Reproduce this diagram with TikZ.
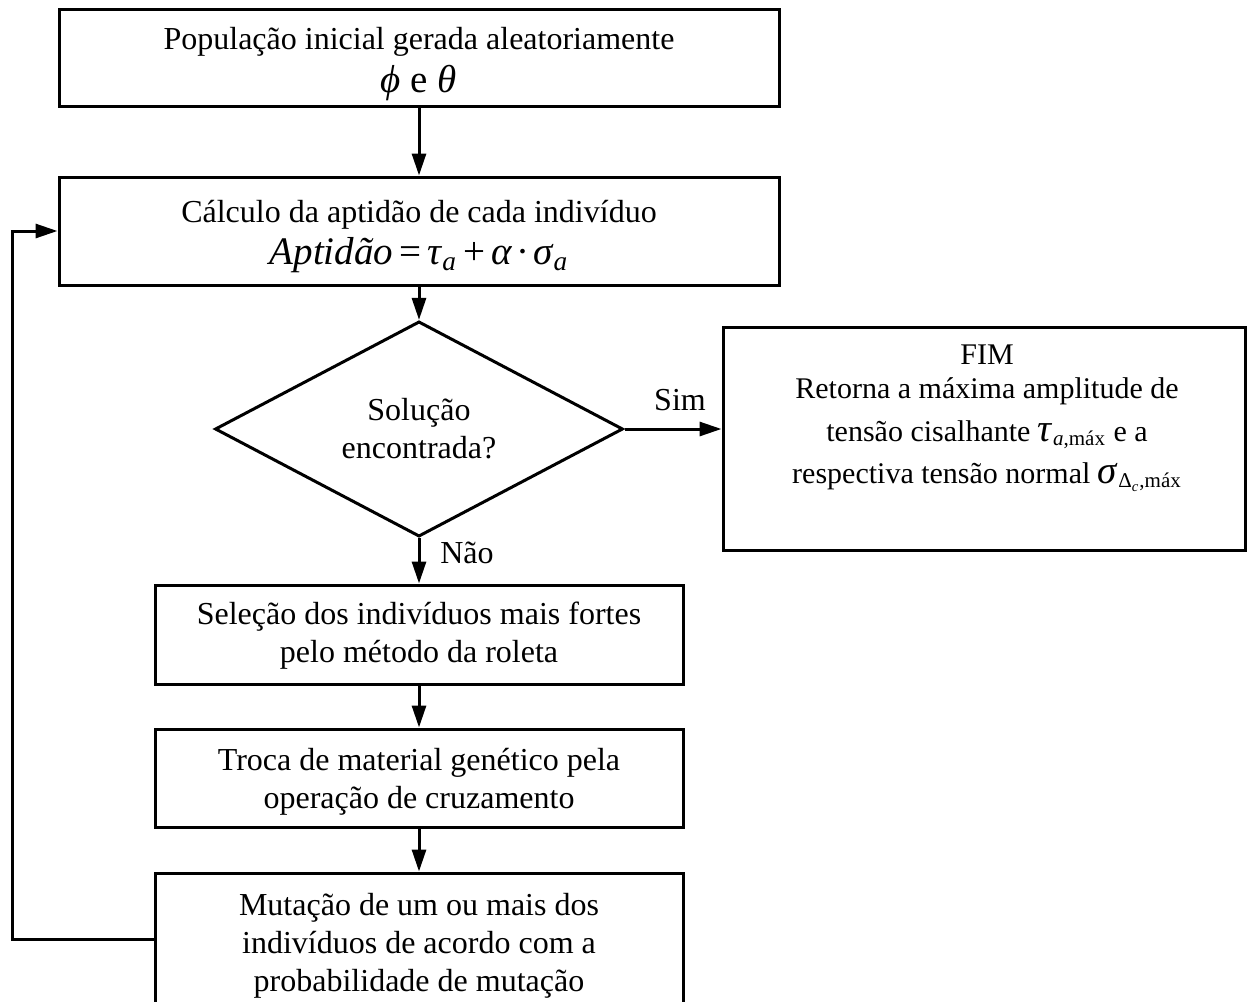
\documentclass[tikz,border=0pt]{standalone}
\usepackage{fontspec}
\setmainfont{Liberation Serif}
\usetikzlibrary{arrows.meta,shapes.geometric}
\tikzset{
  box/.style={draw, line width=1.5pt, inner sep=0pt},
  txt/.style={align=center, inner sep=0pt, font=\fontsize{16}{19}\selectfont},
  fimtxt/.style={align=center, inner sep=0pt, font=\fontsize{15}{17}\selectfont},
  dia/.style={draw, diamond, line width=1.5pt, align=center, inner sep=0pt, font=\fontsize{16}{19}\selectfont},
  lbl/.style={font=\fontsize{16}{19}\selectfont, inner sep=0pt},
  arr/.style={line width=1.5pt, -{Triangle[length=11pt,width=7pt]}}
}
\newcommand{\bigtxt}[1]{{\fontsize{19.5}{22}\selectfont #1}}
\begin{document}
\begin{tikzpicture}[x=0.5pt,y=-0.5pt]
\useasboundingbox (0,0) rectangle (1247,1001);
% boxes
\node[box, minimum width=360pt, minimum height=48.5pt] (top) at (419,57.5) {};
\node[box, minimum width=360pt, minimum height=54pt] (calc) at (419,231) {};
\node[dia, minimum width=204pt, minimum height=84pt] (sol) at (419,429)
  {Solução\\encontrada?};
\node[box, minimum width=261pt, minimum height=111.5pt] (fim) at (984,438.5) {};
\node[box, minimum width=264pt, minimum height=49.5pt] (sel) at (419,634.5) {};
\node[box, minimum width=264pt, minimum height=49pt] (troca) at (419,778) {};
\node[box, minimum width=264pt, minimum height=66.5pt] (mut) at (419,939.5) {};
% texts
\node[txt] (topT) at (419,64)
  {População inicial gerada aleatoriamente\\[2.5pt] \bigtxt{\textit{ϕ} e \textit{θ}}};
\node[txt] (calcT) at (419,236.5)
  {Cálculo da aptidão de cada indivíduo\\[2pt] \bigtxt{\textit{Aptidão}\hspace{3pt}=\hspace{3pt}\textit{τ}\textsubscript{\textit{a}}\hspace{3pt}+\hspace{3pt}\textit{α}\hspace{2pt}·\hspace{2pt}\textit{σ}\textsubscript{\textit{a}}}};
\node[fimtxt] (fimT) at (987,418)
  {FIM\\Retorna a máxima amplitude de\\[4.5pt] tensão cisalhante \bigtxt{\textit{τ}}\textsubscript{\textit{a},máx} e a\\[4pt] respectiva tensão normal \bigtxt{\textit{σ}}\textsubscript{Δ\textsubscript{\textit{c}},máx}};
\node[txt] (selT) at (419,636)
  {Seleção dos indivíduos mais fortes\\pelo método da roleta};
\node[txt] (trocaT) at (419,781.5)
  {Troca de material genético pela\\operação de cruzamento};
\node[txt] (mutT) at (419,945.5)
  {Mutação de um ou mais dos\\indivíduos de acordo com a\\probabilidade de mutação};
\node[lbl] (sim) at (680,400) {Sim};
\node[lbl] (nao) at (467,553) {Não};
\coordinate (lt) at (12,231);
% connectors
\draw[arr] (top) -- (calc);
\draw[arr] (calc) -- (sol);
\draw[arr] (sol.east) -- (sol.east -| fim.west);
\draw[arr] (sol) -- (sel);
\draw[arr] (sel) -- (troca);
\draw[arr] (troca) -- (mut);
\draw[arr] (mut.west) -| (lt) -- (calc.west);
\end{tikzpicture}
\end{document}
